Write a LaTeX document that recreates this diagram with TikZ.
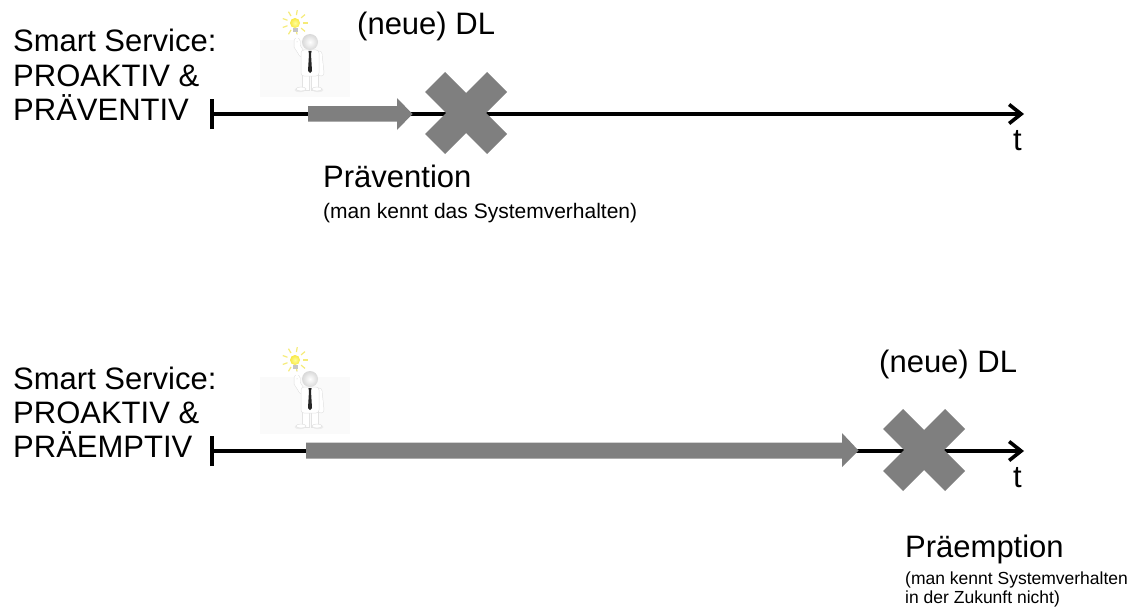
\documentclass[tikz,border=0pt]{standalone}
\usepackage{fontspec}
\setmainfont{Liberation Sans}
\usetikzlibrary{arrows.meta}
\definecolor{bargray}{RGB}{127,127,127}
\definecolor{bulbyellow}{RGB}{248,232,70}
\definecolor{rayyellow}{RGB}{245,235,120}

\tikzset{
  big/.style={anchor=base west,inner sep=0pt,font=\fontsize{31pt}{34pt}\selectfont},
  smalltop/.style={anchor=base west,inner sep=0pt,font=\fontsize{21pt}{24pt}\selectfont},
  smallbot/.style={anchor=base west,inner sep=0pt,font=\fontsize{17.5pt}{20pt}\selectfont},
  timeline/.style={line width=3.6pt,{Bar[width=30pt]}-{Straight Barb[length=12pt,width=19pt]}},
  greybar/.style={fill=bargray,draw=none},
  body/.style={fill=white,draw=gray!22,line width=0.5pt},
  % small 3D man with a light bulb, origin at the centre of the head
  thinker/.pic={
    \fill[black!2] (-50,-2) rectangle (40,55);
    % light bulb with rays
    \foreach \a in {0,40,...,320}
      \draw[rayyellow,line width=1.2pt] (-15,-19) ++(\a:8) -- ++(\a:5);
    \fill[gray!45] (-17.5,-14) rectangle (-12.5,-10);
    \shade[inner color=yellow!40,outer color=bulbyellow] (-15,-19) circle (5);
    % legs and feet
    \draw[body] (-8,30) rectangle (-1,48);
    \draw[body] (1,30) rectangle (8,48);
    \fill[gray!15] (-10,48) ellipse (5.5 and 2.2);
    \fill[gray!15] (8,48) ellipse (5.5 and 2.2);
    \draw[body] (-9,47) ellipse (5 and 2);
    \draw[body] (7,47) ellipse (5 and 2);
    % raised arm and finger
    \draw[gray!25,line width=6.5pt,line cap=round] (-8,12) -- (-13,4) -- (-13,-1);
    \draw[white,line width=5.5pt,line cap=round] (-8,12) -- (-13,4) -- (-13,-1);
    \draw[gray!25,line width=2.8pt,line cap=round] (-13,-1) -- (-13,-7);
    \draw[white,line width=2pt,line cap=round] (-13,-1) -- (-13,-7);
    % other arm hanging down
    \draw[gray!25,line width=6.5pt,line cap=round] (9,12) -- (11,31);
    \draw[white,line width=5.5pt,line cap=round] (9,12) -- (11,31);
    % torso
    \draw[body,rounded corners=3pt] (-9,8) rectangle (9,34);
    % tie
    \fill[black!85] (-1.6,9) -- (1.6,9) -- (1,12) -- (2,29) -- (0,31) -- (-2,29) -- (-1,12) -- cycle;
    % head
    \shade[inner color=white,outer color=gray!30] (0,0) circle (8);
  }
}

\begin{document}
\begin{tikzpicture}[x=1pt,y=-1pt]
\useasboundingbox (0,0) rectangle (1148,610);

% ---------- upper timeline: prevention ----------
\node[big] (t1a) at (13,52) {Smart Service:};
\node[big] (t1b) at (13,86) {PROAKTIV \&};
\node[big] (t1c) at (13,120) {PRÄVENTIV};

\coordinate (s1) at (210,114);
\coordinate (e1) at (1024,114);
\draw[timeline] (s1) -- (e1);
\node[big,anchor=base west] (tt1) at (1013,150) {t};

\pic at (310,42) {thinker};

\fill[greybar] (308,106) -- (397,106) -- (397,98) -- (412.5,114) -- (397,130) -- (397,121.5) -- (308,121.5) -- cycle;

\begin{scope}[shift={(466,113)}]
  \fill[greybar] (0,-20) -- (21,-41) -- (41,-21) -- (20,0) -- (41,21) -- (21,41)
    -- (0,20) -- (-21,41) -- (-41,21) -- (-20,0) -- (-41,-21) -- (-21,-41) -- cycle;
\end{scope}

\node[big] (dl1) at (357,35) {(neue) DL};
\node[big] (prev) at (323,187) {Prävention};
\node[smalltop] (prevnote) at (323,218) {(man kennt das Systemverhalten)};

% ---------- lower timeline: preemption ----------
\node[big] (t2a) at (13,389) {Smart Service:};
\node[big] (t2b) at (13,423) {PROAKTIV \&};
\node[big] (t2c) at (13,457) {PRÄEMPTIV};

\coordinate (s2) at (210,451);
\coordinate (e2) at (1024,451);
\draw[timeline] (s2) -- (e2);
\node[big,anchor=base west] (tt2) at (1013,487) {t};

\pic at (310,379) {thinker};

\fill[greybar] (306,442.5) -- (842,442.5) -- (842,433) -- (858.5,450.5) -- (842,467) -- (842,458.5) -- (306,458.5) -- cycle;

\begin{scope}[shift={(924,450)}]
  \fill[greybar] (0,-20) -- (21,-41) -- (41,-21) -- (20,0) -- (41,21) -- (21,41)
    -- (0,20) -- (-21,41) -- (-41,21) -- (-20,0) -- (-41,-21) -- (-21,-41) -- cycle;
\end{scope}

\node[big] (dl2) at (879,372) {(neue) DL};
\node[big] (preem) at (905,557) {Präemption};
\node[smallbot] (preemnote1) at (905,584) {(man kennt Systemverhalten};
\node[smallbot] (preemnote2) at (905,603) {in der Zukunft nicht)};
\end{tikzpicture}
\end{document}
